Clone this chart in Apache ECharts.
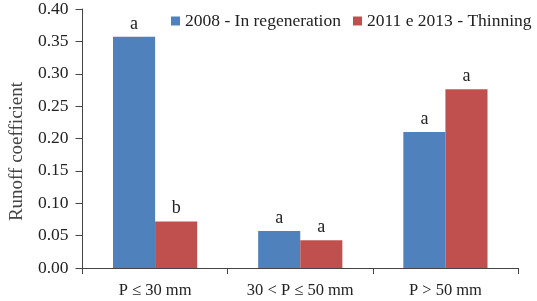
<!DOCTYPE html>
<html>
<head>
<meta charset="utf-8">
<script src="https://cdn.jsdelivr.net/npm/echarts@6/dist/echarts.min.js"></script>
<style>
  html, body { margin: 0; padding: 0; background: #fff; }
  #chart { width: 537px; height: 301px; }
</style>
</head>
<body>
<div id="chart"></div>
<script>
// precipitation classes
const categories = ["P ≤ 30 mm", "30 < P ≤ 50 mm", "P > 50 mm"];
const regeneration = [0.357, 0.057, 0.210];
const thinning = [0.072, 0.043, 0.276];
const regenLetters = ["a", "a", "a"];
const thinLetters = ["b", "a", "a"];

const serif = "Liberation Serif";

function letterLabel(letters) {
  return {
    show: true,
    position: "top",
    distance: 4,
    fontFamily: serif,
    fontSize: 18,
    color: "#222",
    formatter: function (p) {
      return letters[p.dataIndex];
    }
  };
}

const chart = echarts.init(document.getElementById("chart"));

chart.setOption({
  animation: false,
  textStyle: { fontFamily: serif },
  grid: { left: 77, right: 19, top: 7, bottom: 33 },
  legend: {
    top: 7,
    left: 166,
    itemWidth: 9,
    itemHeight: 9,
    itemGap: 12,
    icon: "rect",
    textStyle: { fontFamily: serif, fontSize: 17.5, color: "#222" },
    data: ["2008 - In regeneration", "2011 e 2013 - Thinning"]
  },
  xAxis: {
    type: "category",
    data: categories,
    axisLine: { lineStyle: { color: "#444" } },
    axisTick: { show: true, length: 6, lineStyle: { color: "#444" } },
    axisLabel: { fontFamily: serif, fontSize: 16.5, color: "#222", margin: 14 }
  },
  yAxis: {
    type: "value",
    min: 0,
    max: 0.4,
    interval: 0.05,
    name: "Runoff coefficient",
    nameLocation: "middle",
    nameGap: 54,
    nameTextStyle: {
      fontFamily: serif,
      fontSize: 19,
      color: "#444",
      padding: [0, 26, 0, 0]
    },
    splitLine: { show: false },
    axisLine: { show: true, lineStyle: { color: "#444" } },
    axisTick: { show: true, length: 7, lineStyle: { color: "#444" } },
    axisLabel: {
      fontFamily: serif,
      fontSize: 17.5,
      color: "#222",
      margin: 14,
      formatter: function (v) {
        return v.toFixed(2);
      }
    }
  },
  series: [
    {
      name: "2008 - In regeneration",
      type: "bar",
      data: regeneration,
      barGap: "0%",
      barCategoryGap: "42%",
      itemStyle: { color: "#4F81BD" },
      label: letterLabel(regenLetters)
    },
    {
      name: "2011 e 2013 - Thinning",
      type: "bar",
      data: thinning,
      itemStyle: { color: "#C0504D" },
      label: letterLabel(thinLetters)
    }
  ]
});
</script>
</body>
</html>
